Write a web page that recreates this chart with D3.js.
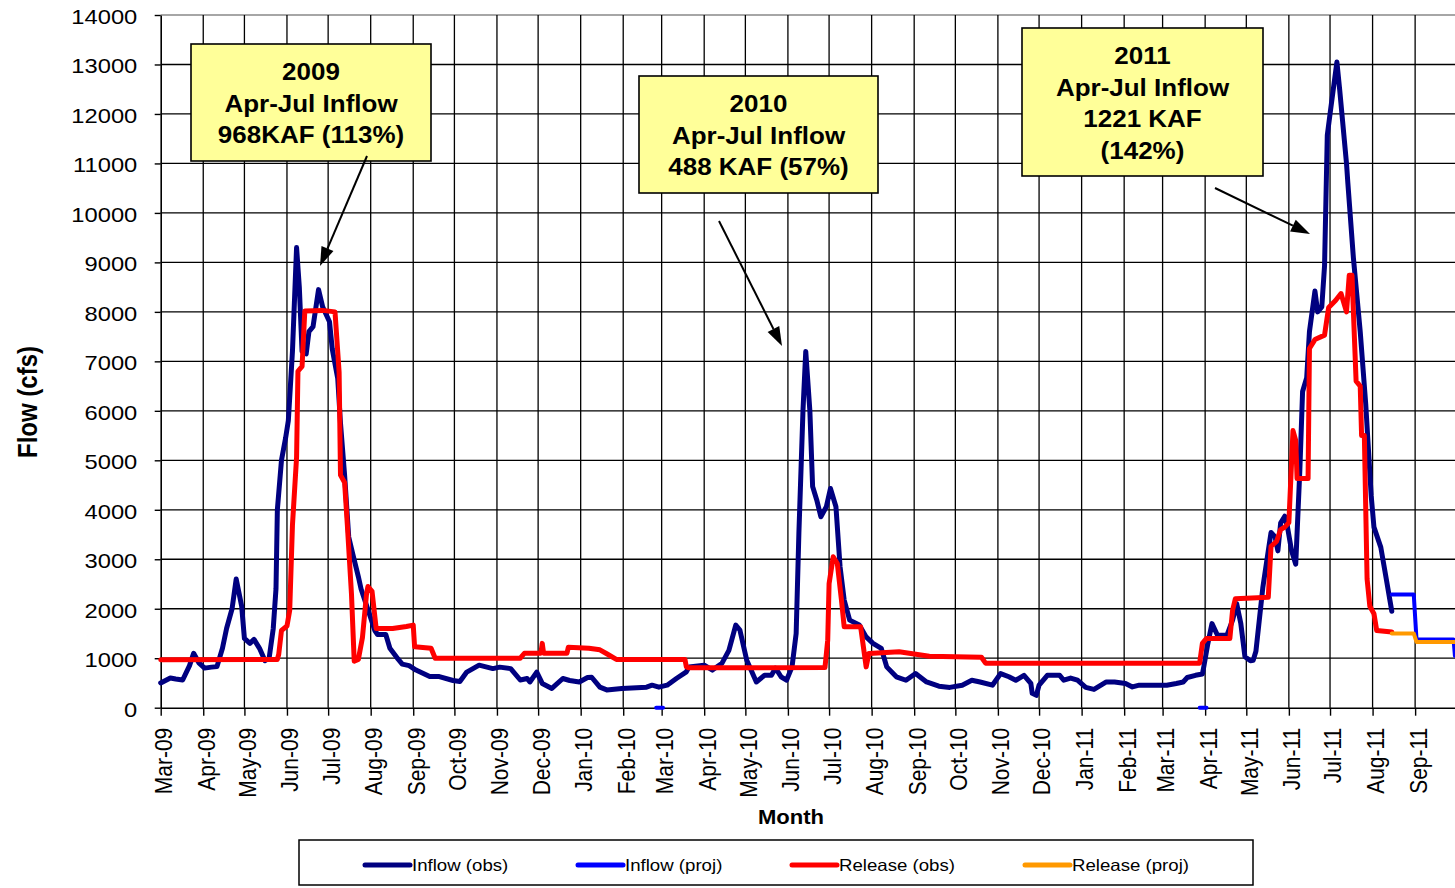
<!DOCTYPE html>
<html>
<head>
<meta charset="utf-8">
<script src="https://cdnjs.cloudflare.com/ajax/libs/d3/7.8.5/d3.min.js"></script>
<style>
  body { margin: 0; background: #fff; }
  svg { display: block; font-family: Arial, "Liberation Sans", sans-serif; }
</style>
</head>
<body>
<script>
// values (date, cfs)
const inflowObs = [
  ["2009-03-01",500],["2009-03-08",600],["2009-03-12",580],["2009-03-17",560],["2009-03-22",850],["2009-03-25",1100],
  ["2009-03-29",900],["2009-04-02",800],["2009-04-07",820],["2009-04-11",830],["2009-04-15",1200],["2009-04-18",1600],
  ["2009-04-22",2000],["2009-04-25",2600],["2009-04-29",2050],["2009-05-01",1400],["2009-05-05",1300],["2009-05-08",1380],
  ["2009-05-12",1200],["2009-05-16",950],["2009-05-19",1000],["2009-05-22",1600],["2009-05-24",2400],["2009-05-25",4000],
  ["2009-05-28",5000],["2009-05-31",5450],["2009-06-02",5800],["2009-06-05",7200],["2009-06-08",9300],["2009-06-10",8500],
  ["2009-06-12",7200],["2009-06-15",7150],["2009-06-17",7600],["2009-06-20",7700],["2009-06-24",8450],["2009-06-27",8100],
  ["2009-07-02",7800],["2009-07-04",7250],["2009-07-08",6650],["2009-07-10",5750],["2009-07-13",4700],["2009-07-16",3450],
  ["2009-07-19",3100],["2009-07-23",2650],["2009-07-25",2400],["2009-07-31",1900],["2009-08-04",1560],["2009-08-06",1480],
  ["2009-08-12",1480],["2009-08-15",1200],["2009-08-21",980],["2009-08-24",880],["2009-08-29",850],["2009-09-03",760],
  ["2009-09-13",630],["2009-09-20",630],["2009-09-30",550],["2009-10-05",530],["2009-10-10",720],["2009-10-19",860],
  ["2009-10-29",790],["2009-11-03",820],["2009-11-11",790],["2009-11-18",560],["2009-11-23",590],["2009-11-25",520],
  ["2009-11-30",720],["2009-12-04",490],["2009-12-11",390],["2009-12-19",590],["2009-12-24",550],["2009-12-31",520],
  ["2010-01-06",610],["2010-01-09",615],["2010-01-15",415],["2010-01-20",360],["2010-01-31",390],["2010-02-18",415],
  ["2010-02-22",455],["2010-02-27",415],["2010-03-05",455],["2010-03-12",595],["2010-03-19",725],["2010-03-21",825],
  ["2010-04-01",860],["2010-04-07",760],["2010-04-14",900],["2010-04-19",1160],["2010-04-24",1670],["2010-04-27",1570],
  ["2010-05-02",960],["2010-05-09",520],["2010-05-15",655],["2010-05-20",655],["2010-05-23",800],["2010-05-27",625],
  ["2010-05-31",555],["2010-06-04",825],["2010-06-07",1500],["2010-06-09",3530],["2010-06-12",6020],["2010-06-14",7200],
  ["2010-06-17",6000],["2010-06-19",4470],["2010-06-22",4200],["2010-06-25",3860],["2010-06-29",4060],["2010-07-02",4430],
  ["2010-07-06",4060],["2010-07-09",2850],["2010-07-12",2175],["2010-07-16",1770],["2010-07-23",1670],["2010-07-28",1430],
  ["2010-08-02",1300],["2010-08-08",1200],["2010-08-12",825],["2010-08-19",625],["2010-08-26",555],["2010-09-02",690],
  ["2010-09-10",520],["2010-09-19",435],["2010-09-27",410],["2010-10-06",455],["2010-10-13",555],["2010-10-19",520],
  ["2010-10-28",455],["2010-11-03",690],["2010-11-09",625],["2010-11-14",555],["2010-11-20",655],["2010-11-25",490],
  ["2010-11-26",290],["2010-11-29",250],["2010-12-01",455],["2010-12-07",655],["2010-12-16",655],["2010-12-19",555],
  ["2010-12-24",600],["2010-12-29",555],["2011-01-04",410],["2011-01-10",370],["2011-01-19",520],["2011-01-25",520],
  ["2011-02-02",490],["2011-02-07",420],["2011-02-12",455],["2011-03-04",455],["2011-03-11",490],["2011-03-16",520],
  ["2011-03-19",610],["2011-03-25",655],["2011-03-30",680],["2011-03-31",825],["2011-04-03",1300],["2011-04-06",1700],
  ["2011-04-10",1465],["2011-04-17",1470],["2011-04-21",1770],["2011-04-24",2100],["2011-04-27",1700],["2011-04-30",1030],
  ["2011-05-04",950],["2011-05-06",960],["2011-05-08",1140],["2011-05-13",2420],["2011-05-17",3170],["2011-05-19",3540],
  ["2011-05-22",3450],["2011-05-24",3170],["2011-05-26",3730],["2011-05-29",3870],["2011-05-31",3650],["2011-06-03",3170],
  ["2011-06-06",2900],["2011-06-09",4800],["2011-06-11",6390],["2011-06-14",6670],["2011-06-16",7600],["2011-06-20",8420],
  ["2011-06-22",8000],["2011-06-25",8100],["2011-06-27",8930],["2011-06-29",11570],["2011-07-01",12000],["2011-07-06",13050],
  ["2011-07-08",12500],["2011-07-13",11000],["2011-07-14",10600],["2011-07-18",9100],["2011-07-23",7600],["2011-07-27",6140],
  ["2011-07-31",4280],["2011-08-02",3650],["2011-08-07",3240],["2011-08-11",2600],["2011-08-15",1950]
]

const inflowProj = [
  ["2010-02-25",0],["2010-03-02",0],[null,null],
  ["2011-03-28",0],["2011-04-02",0],[null,null],
  ["2011-08-15",2290],["2011-08-31",2290],["2011-09-02",1380],["2011-09-29",1380],["2011-09-30",1050]
]

const releaseObs = [
  ["2009-03-01",970],["2009-05-25",975],["2009-05-26",1080],["2009-05-28",1560],["2009-06-01",1650],["2009-06-03",1970],
  ["2009-06-05",3690],["2009-06-08",5060],["2009-06-09",6800],["2009-06-12",6900],["2009-06-14",8020],["2009-06-27",8030],
  ["2009-07-06",8000],["2009-07-09",6780],["2009-07-10",4700],["2009-07-13",4550],["2009-07-15",3690],["2009-07-18",2300],
  ["2009-07-20",940],["2009-07-23",975],["2009-07-26",1420],["2009-07-29",2310],["2009-07-30",2450],["2009-08-02",2350],
  ["2009-08-05",1600],["2009-08-17",1600],["2009-08-27",1640],["2009-09-01",1670],["2009-09-02",1230],["2009-09-14",1200],
  ["2009-09-17",1000],["2009-11-18",1000],["2009-11-21",1100],["2009-12-03",1100],["2009-12-04",1300],["2009-12-05",1100],
  ["2009-12-22",1100],["2009-12-23",1220],["2010-01-07",1200],["2010-01-15",1170],["2010-01-20",1090],["2010-01-27",975],
  ["2010-03-18",975],["2010-03-19",825],["2010-03-21",805],["2010-06-28",810],["2010-06-30",1365],["2010-07-01",2510],
  ["2010-07-04",3050],["2010-07-07",2915],["2010-07-10",2175],["2010-07-12",1635],["2010-07-24",1635],["2010-07-28",825],
  ["2010-07-30",1095],["2010-08-21",1130],["2010-09-12",1040],["2010-10-20",1020],["2010-10-23",900],["2011-03-28",900],
  ["2011-03-30",1300],["2011-04-02",1400],["2011-04-19",1400],["2011-04-21",1970],["2011-04-23",2200],["2011-05-17",2230],
  ["2011-05-19",3260],["2011-05-23",3360],["2011-05-26",3600],["2011-05-29",3650],["2011-06-01",3740],["2011-06-04",5600],
  ["2011-06-06",5400],["2011-06-07",4630],["2011-06-15",4630],["2011-06-16",7260],["2011-06-20",7440],["2011-06-27",7530],
  ["2011-06-30",8090],["2011-07-05",8230],["2011-07-09",8370],["2011-07-13",8000],["2011-07-15",8740],["2011-07-17",8740],
  ["2011-07-20",6600],["2011-07-23",6500],["2011-07-24",5500],["2011-07-26",5500],["2011-07-28",2600],["2011-07-30",2050],
  ["2011-08-02",1900],["2011-08-04",1560],["2011-08-15",1530]
]

const releaseProj = [["2011-08-15",1500],["2011-08-31",1500],["2011-09-02",1330],["2011-09-30",1330]]

const yTicks = d3.range(0, 14001, 1000)
const seriesNames = ["Inflow (obs)", "Inflow (proj)", "Release (obs)", "Release (proj)"]
const seriesColors = ["#000080", "#0000ff", "#ff0000", "#ff9900"]
const notes = [
  ["2009", "Apr-Jul Inflow", "968KAF (113%)"],
  ["2010", "Apr-Jul Inflow", "488 KAF (57%)"],
  ["2011", "Apr-Jul Inflow", "1221 KAF", "(142%)"]
]

//Declare VARIABLES
const w = 1455
const h = 888
const SX = 1.13 // text in the original is stretched sideways
const parse = d3.timeParse("%Y-%m-%d")

const svg = d3.select("body").append("svg")
  .attr("width", w)
  .attr("height", h)

const x = d3.scaleTime()
  .domain([new Date(2009, 2, 1), new Date(2011, 9, 1)])
  .range([160.7, 1456.3])
const y = d3.scaleLinear().domain([0, 14000]).range([707.7, 15])

const months = d3.timeMonth.range(new Date(2009, 2, 1), new Date(2011, 8, 2))

// grid
svg.append("g").selectAll("line")
  .data(yTicks.slice(1))
  .enter().append("line")
  .attr("x1", x.range()[0]).attr("x2", w)
  .attr("y1", d => y(d)).attr("y2", d => y(d))
  .attr("stroke", d => d === 14000 ? "#888" : "#000")
  .attr("stroke-width", 1.3)

svg.append("g").selectAll("line")
  .data(months.slice(1))
  .enter().append("line")
  .attr("x1", d => x(d)).attr("x2", d => x(d))
  .attr("y1", y(14000)).attr("y2", y(0))
  .attr("stroke", "#000")
  .attr("stroke-width", 1.3)

// axes
const yAxis = svg.append("g")
  .attr("transform", "translate(" + x.range()[0] + ",0)")
  .call(d3.axisLeft(y).tickValues(yTicks).tickSize(6).tickSizeOuter(0).tickFormat(d3.format("d")))
yAxis.select(".domain").attr("stroke-width", 1.6)
yAxis.selectAll("line").attr("stroke-width", 1.4)
yAxis.selectAll("text")
  .attr("x", 0).attr("dy", "0.4em")
  .attr("transform", "translate(-23.4,0) scale(" + SX + ",1)")
  .attr("text-anchor", "end")
  .style("font-size", "21px")
  .attr("fill", "#000")

const xAxis = svg.append("g")
  .attr("transform", "translate(0," + y(0) + ")")
  .call(d3.axisBottom(x).tickValues(months).tickSize(8).tickSizeOuter(0).tickFormat(d3.timeFormat("%b-%y")))
xAxis.select(".domain").attr("stroke-width", 1.6)
xAxis.selectAll("line").attr("stroke-width", 1.4)
xAxis.selectAll("text")
  .attr("x", 0).attr("y", 0).attr("dy", "0.46em")
  .attr("transform", "translate(0,20) scale(" + SX + ",1) rotate(-90)")
  .attr("text-anchor", "end")
  .style("font-size", "21px")
  .attr("fill", "#000")

// axis titles
svg.append("text")
  .attr("transform", "translate(37,402) scale(" + SX + ",1) rotate(-90)")
  .attr("text-anchor", "middle")
  .style("font-size", "24px")
  .style("font-weight", "bold")
  .text("Flow (cfs)")

svg.append("text")
  .attr("transform", "translate(791,824) scale(" + SX + ",1)")
  .attr("text-anchor", "middle")
  .style("font-size", "19.5px")
  .style("font-weight", "bold")
  .text("Month")

// series
const line = d3.line()
  .defined(d => d[0] !== null)
  .x(d => x(parse(d[0])))
  .y(d => y(d[1]))

const series = [inflowObs, inflowProj, releaseObs, releaseProj]
const widths = [5, 4, 5, 4]
series.forEach(function (data, i) {
  svg.append("path")
    .datum(data)
    .attr("d", line)
    .attr("fill", "none")
    .attr("stroke", seriesColors[i])
    .attr("stroke-width", widths[i])
    .attr("stroke-linejoin", "round")
    .attr("stroke-linecap", "round")
})

// callout boxes
const boxes = [
  { x: 191, y: 44, w: 240, h: 117, ax: [367, 156], tip: [320, 266] },
  { x: 639, y: 76, w: 239, h: 117, ax: [719, 221], tip: [782, 346] },
  { x: 1022, y: 28, w: 241, h: 148, ax: [1215, 188], tip: [1310, 234] }
]

boxes.forEach(function (b, i) {
  svg.append("rect")
    .attr("x", b.x).attr("y", b.y)
    .attr("width", b.w).attr("height", b.h)
    .attr("fill", "#ffff99")
    .attr("stroke", "#000")
    .attr("stroke-width", 1.6)

  notes[i].forEach(function (t, j) {
    svg.append("text")
      .attr("transform", "translate(" + (b.x + b.w / 2) + "," + (b.y + 36 + j * 31.5) + ") scale(" + SX + ",1)")
      .attr("text-anchor", "middle")
      .style("font-size", "23px")
      .style("font-weight", "bold")
      .text(t)
  })

  // arrow
  const dx = b.tip[0] - b.ax[0]
  const dy = b.tip[1] - b.ax[1]
  const len = Math.sqrt(dx * dx + dy * dy)
  const ux = dx / len, uy = dy / len
  const hl = 19, hw = 6.5
  const bx = b.tip[0] - ux * hl, by = b.tip[1] - uy * hl
  svg.append("line")
    .attr("x1", b.ax[0]).attr("y1", b.ax[1])
    .attr("x2", bx).attr("y2", by)
    .attr("stroke", "#000")
    .attr("stroke-width", 2)
  svg.append("path")
    .attr("d", "M" + b.tip[0] + "," + b.tip[1] +
      "L" + (bx - uy * hw) + "," + (by + ux * hw) +
      "L" + (bx + uy * hw) + "," + (by - ux * hw) + "Z")
    .attr("fill", "#000")
})

// legend
svg.append("rect")
  .attr("x", 299).attr("y", 840)
  .attr("width", 954).attr("height", 45)
  .attr("fill", "#fff")
  .attr("stroke", "#000")
  .attr("stroke-width", 1.5)

const legendX = [365, 578, 792, 1025]
const legend = svg.selectAll(".legend-item")
  .data(seriesNames)
  .enter().append("g")
  .attr("class", "legend-item")
  .attr("transform", (d, i) => "translate(" + legendX[i] + ",865)")

legend.append("line")
  .attr("x1", 0).attr("x2", 45)
  .attr("stroke", (d, i) => seriesColors[i])
  .attr("stroke-width", 5)
  .attr("stroke-linecap", "round")

legend.append("text")
  .attr("transform", "translate(47,0) scale(" + SX + ",1)")
  .attr("dy", "0.36em")
  .style("font-size", "16.5px")
  .text(d => d)
</script>
</body>
</html>
